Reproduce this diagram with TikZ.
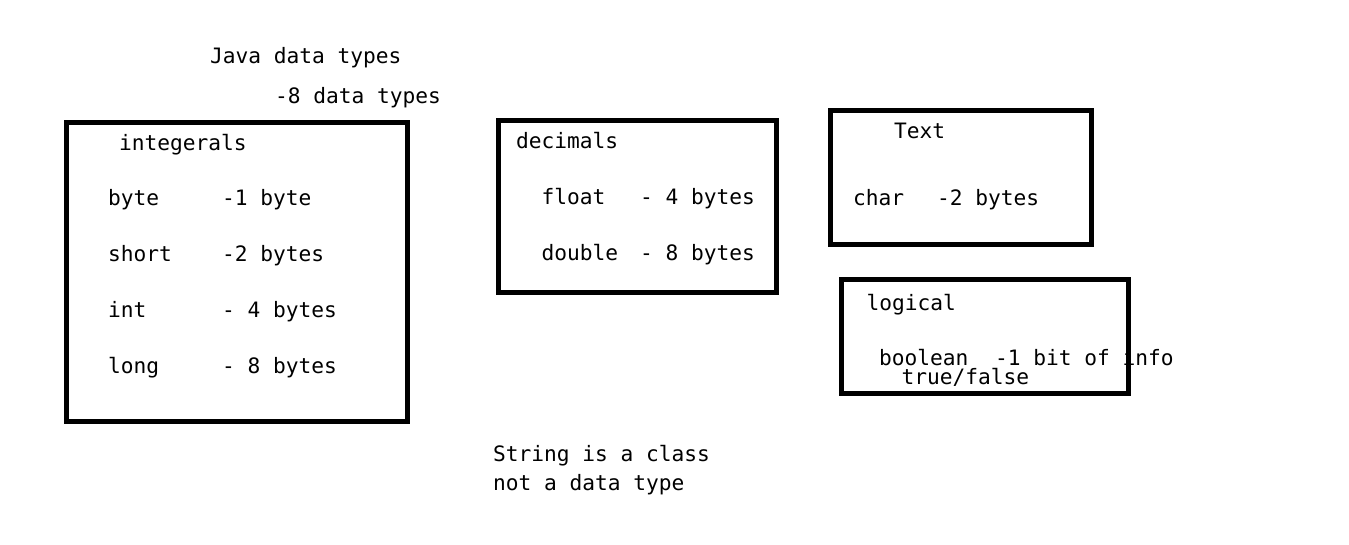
\documentclass[tikz,border=0pt]{standalone}
\usepackage{fontspec}
\setmainfont{DejaVu Sans Mono}
\begin{document}
\begin{tikzpicture}[x=1pt,y=-1pt,
  lbl/.style={anchor=base west,inner sep=0pt,outer sep=0pt,font=\fontsize{21.2pt}{24pt}\selectfont},
  box/.style={draw=black,line width=5pt}]
\useasboundingbox[fill=white] (0,0) rectangle (1349,544);
% boxes
\draw[box] (66,122) rectangle (407,421);
\draw[box] (498.5,120) rectangle (776,292);
\draw[box] (830,110) rectangle (1091,244);
\draw[box] (841,279) rectangle (1128,393);
% title
\node[lbl] (t1) at (210,63) {Java data types};
\node[lbl] (t2) at (275,103) {-8 data types};
% integerals
\node[lbl] (ih) at (119,150) {integerals};
\node[lbl] (i1) at (108,205) {byte};
\node[lbl] (i1v) at (222,205) {-1 byte};
\node[lbl] (i2) at (108,261.5) {short};
\node[lbl] (i2v) at (222,261.5) {-2 bytes};
\node[lbl] (i3) at (108,317.5) {int};
\node[lbl] (i3v) at (222,317.5) {- 4 bytes};
\node[lbl] (i4) at (108,373) {long};
\node[lbl] (i4v) at (222,373) {- 8 bytes};
% decimals
\node[lbl] (dh) at (516,148) {decimals};
\node[lbl] (d1) at (541.5,204) {float};
\node[lbl] (d1v) at (640,204) {- 4 bytes};
\node[lbl] (d2) at (541.5,260) {double};
\node[lbl] (d2v) at (640,260) {- 8 bytes};
% text
\node[lbl] (th) at (894,138) {Text};
\node[lbl] (t1a) at (853,205) {char};
\node[lbl] (t1v) at (937,205) {-2 bytes};
% logical
\node[lbl] (lh) at (866.5,310) {logical};
\node[lbl] (l1) at (879,365.5) {boolean};
\node[lbl] (l1v) at (995,365.5) {-1 bit of info};
\node[lbl] (l2) at (901.5,384.5) {true/false};
% note
\node[lbl] (n1) at (493,461.5) {String is a class};
\node[lbl] (n2) at (493,490) {not a data type};
\end{tikzpicture}
\end{document}
